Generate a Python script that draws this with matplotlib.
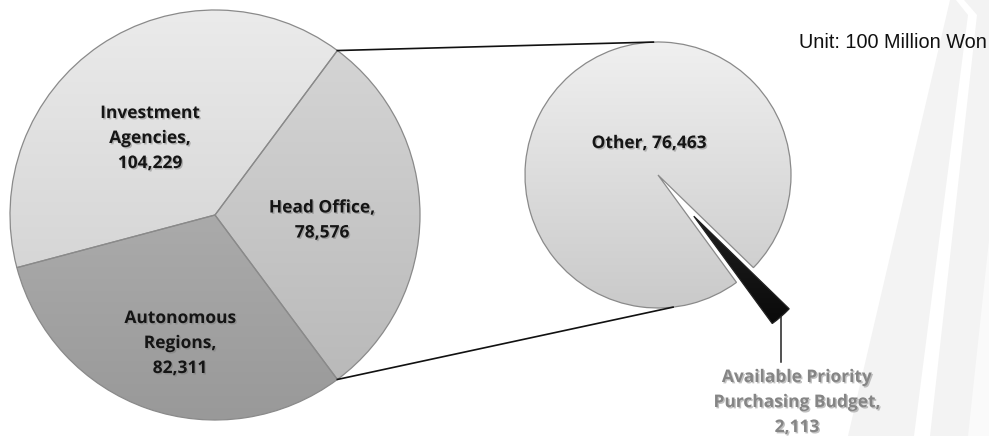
import matplotlib

matplotlib.use("Agg")
import matplotlib.pyplot as plt
import matplotlib.patheffects as pe
import numpy as np
from matplotlib.colors import LinearSegmentedColormap
from matplotlib.patches import Polygon

W, H = 989, 436

# main pie (100 million won)
main_labels = ["Head Office", "Investment Agencies", "Autonomous Regions"]
main_values = [78576, 104229, 82311]
main_text = ["Head Office,\n78,576", "Investment\nAgencies,\n104,229", "Autonomous\nRegions,\n82,311"]

# breakdown of head office
sub_labels = ["Available Priority Purchasing Budget", "Other"]
sub_values = [2113, 76463]
sub_text = ["Available Priority\nPurchasing Budget,\n2,113", "Other, 76,463"]

unit_text = "Unit: 100 Million Won"

main_shades = [("#d8d8d8", "#b6b6b6"), ("#ebebeb", "#c9c9c9"), ("#bcbcbc", "#999999")]
sub_shades = [("#3a3a3a", "#050505"), ("#f0f0f0", "#cacaca")]


def iy(y):
    # image-style y (from top) to axes y
    return H - y


fig = plt.figure(figsize=(W / 100, H / 100), dpi=100)
ax = fig.add_axes([0, 0, 1, 1])

# faint streaks in the background
for pts, col in [
    ([(950, 0), (989, 0), (989, 436), (848, 436)], "#f3f3f3"),
    ([(956, 0), (964, 0), (977, 15), (930, 436), (914, 436), (968, 15)], "#ffffff"),
    ([(989, 240), (989, 436), (968, 436)], "#fafafa"),
]:
    ax.add_patch(Polygon([(x, iy(y)) for x, y in pts], closed=True,
                         facecolor=col, edgecolor="none", zorder=0))


def shaded_pie(values, center, radius, start, shades, explode=None):
    wedges, _ = ax.pie(values, center=center, radius=radius, startangle=start,
                       explode=explode, counterclock=True, frame=True,
                       wedgeprops=dict(edgecolor="#8a8a8a", linewidth=0.9))
    grad = np.linspace(0, 1, 256).reshape(-1, 1)
    for w, (top, bot) in zip(wedges, shades):
        cx, cy = w.center
        cmap = LinearSegmentedColormap.from_list("g", [bot, top])
        im = ax.imshow(grad, extent=(cx - radius, cx + radius, cy - radius, cy + radius),
                       origin="lower", cmap=cmap, aspect="auto", zorder=1.5,
                       interpolation="bilinear")
        im.set_clip_path(w)
        w.set_facecolor("none")
        w.set_zorder(2)
    return wedges


# left pie
c1, r1 = (215, iy(215)), 205
head_deg = 360 * main_values[0] / sum(main_values)
shaded_pie(main_values, c1, r1, -head_deg / 2, main_shades)

# right pie, small slice pulled out
c2, r2 = (658, iy(175)), 133
small_deg = 360 * sub_values[0] / sum(sub_values)
wedges2 = shaded_pie(sub_values, c2, r2, -49 - small_deg / 2, sub_shades,
                     explode=[0.41 * r2, 0])
wedges2[0].set_edgecolor("#222222")

ax.set_xlim(0, W)
ax.set_ylim(0, H)
ax.set_aspect("equal")
ax.axis("off")

# connector lines between the pies
a = np.deg2rad(head_deg / 2)
p_top = (c1[0] + r1 * np.cos(a), c1[1] + r1 * np.sin(a))
p_bot = (c1[0] + r1 * np.cos(-a), c1[1] + r1 * np.sin(-a))
q_top = (c2[0] + r2 * np.cos(np.deg2rad(92)), c2[1] + r2 * np.sin(np.deg2rad(92)))
q_bot = (c2[0] + r2 * np.cos(np.deg2rad(-83.5)), c2[1] + r2 * np.sin(np.deg2rad(-83.5)))
ax.plot([p_top[0], q_top[0]], [p_top[1], q_top[1]], color="#111111", lw=1.2, zorder=3)
ax.plot([p_bot[0], q_bot[0]], [p_bot[1], q_bot[1]], color="#111111", lw=1.2, zorder=3)

shadow = [pe.withSimplePatchShadow(offset=(1, -1), shadow_rgbFace="#777777", alpha=0.45)]
lbl = dict(ha="center", va="center", fontsize=12.5, fontweight="bold",
           family="Open Sans", linespacing=1.5, zorder=5)

ax.text(322, iy(220), main_text[0], color="#151515", path_effects=shadow, **lbl)
ax.text(150, iy(138), main_text[1], color="#151515", path_effects=shadow, **lbl)
ax.text(180, iy(343), main_text[2], color="#151515", path_effects=shadow, **lbl)
ax.text(649, iy(143), sub_text[1], color="#151515", path_effects=shadow, **lbl)
ax.text(797, iy(402), sub_text[0], color="#858585", path_effects=shadow, **lbl)

# leader for the small slice
ax.plot([781, 781], [iy(317), iy(362)], color="#222222", lw=1.1, zorder=3)

ax.text(987, iy(43), unit_text, ha="right", va="center", fontsize=14.3,
        family="Liberation Sans", color="#111111", zorder=5)

fig.savefig("out.png", dpi=100)
